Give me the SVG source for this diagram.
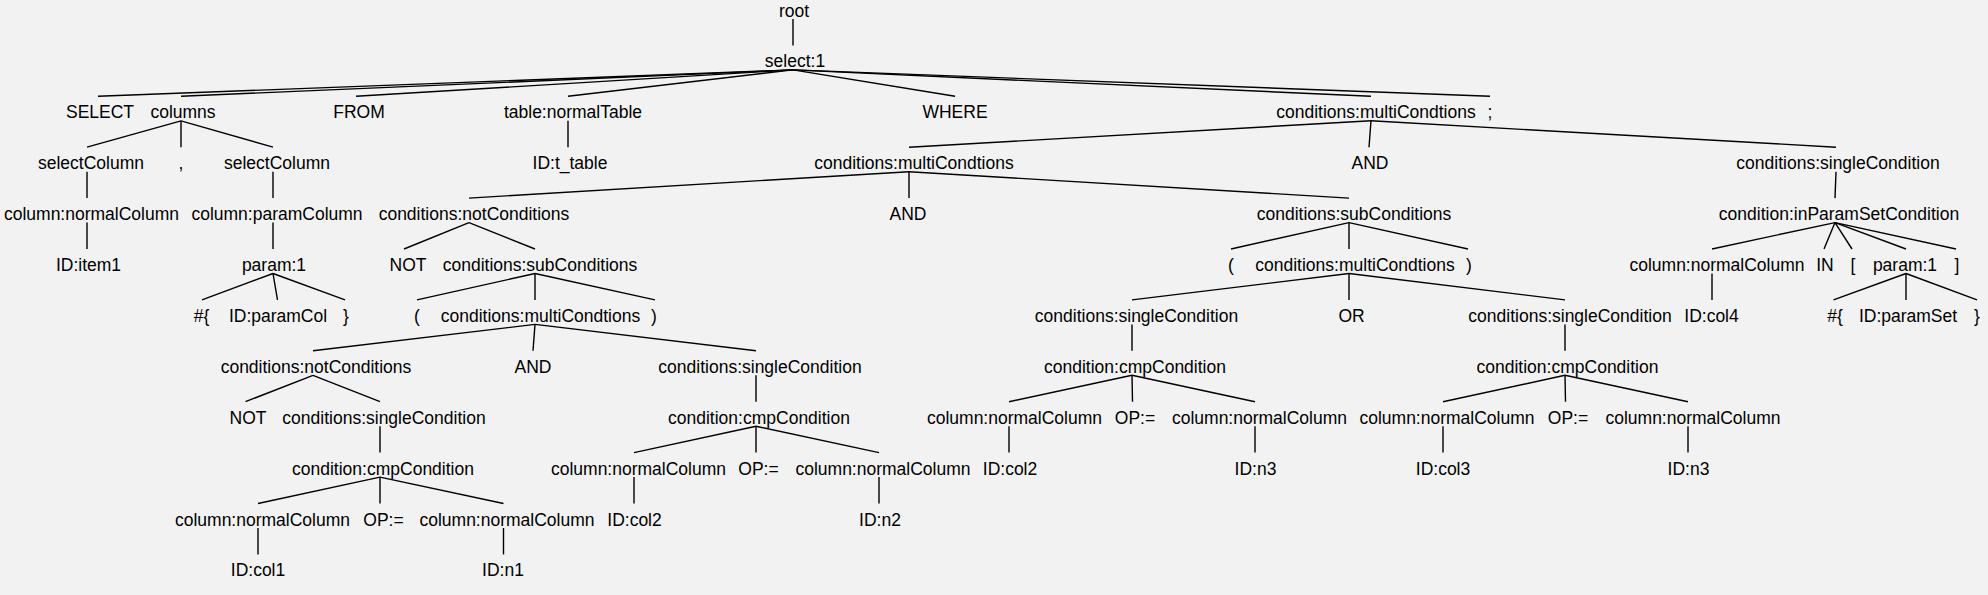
<svg xmlns="http://www.w3.org/2000/svg" width="1988" height="595" viewBox="0 0 1988 595">
<style>
text{font-family:"Liberation Sans",Arial,sans-serif;font-size:17.5px;fill:#000;text-anchor:middle}
#edges line{stroke:#000;stroke-width:1.4}
</style>
<rect width="1988" height="595" fill="#f2f2f2"/>
<g id="edges">
<line x1="793" y1="19" x2="793" y2="45.4"/>
<line x1="793" y1="69.9" x2="98" y2="96.3"/>
<line x1="793" y1="69.9" x2="181" y2="96.3"/>
<line x1="793" y1="69.9" x2="356" y2="96.3"/>
<line x1="793" y1="69.9" x2="568" y2="96.3"/>
<line x1="793" y1="69.9" x2="955" y2="96.3"/>
<line x1="793" y1="69.9" x2="1371" y2="96.3"/>
<line x1="793" y1="69.9" x2="1490" y2="96.3"/>
<line x1="181" y1="120.8" x2="87" y2="147.2"/>
<line x1="181" y1="120.8" x2="181" y2="147.2"/>
<line x1="181" y1="120.8" x2="273" y2="147.2"/>
<line x1="568" y1="120.8" x2="568" y2="147.2"/>
<line x1="1371" y1="120.8" x2="909" y2="147.2"/>
<line x1="1371" y1="120.8" x2="1369" y2="147.2"/>
<line x1="1371" y1="120.8" x2="1836" y2="147.2"/>
<line x1="87" y1="171.7" x2="87" y2="198.1"/>
<line x1="273" y1="171.7" x2="273" y2="198.1"/>
<line x1="909" y1="171.7" x2="469" y2="198.1"/>
<line x1="909" y1="171.7" x2="909" y2="198.1"/>
<line x1="909" y1="171.7" x2="1349" y2="198.1"/>
<line x1="1836" y1="171.7" x2="1835" y2="198.1"/>
<line x1="87" y1="222.6" x2="87" y2="249"/>
<line x1="273" y1="222.6" x2="273" y2="249"/>
<line x1="469" y1="222.6" x2="404" y2="249"/>
<line x1="469" y1="222.6" x2="535" y2="249"/>
<line x1="1349" y1="222.6" x2="1231" y2="249"/>
<line x1="1349" y1="222.6" x2="1349" y2="249"/>
<line x1="1349" y1="222.6" x2="1468" y2="249"/>
<line x1="1835" y1="222.6" x2="1712" y2="249"/>
<line x1="1835" y1="222.6" x2="1824" y2="249"/>
<line x1="1835" y1="222.6" x2="1852" y2="249"/>
<line x1="1835" y1="222.6" x2="1906" y2="249"/>
<line x1="1835" y1="222.6" x2="1956" y2="249"/>
<line x1="273" y1="273.5" x2="202" y2="299.9"/>
<line x1="273" y1="273.5" x2="277.5" y2="299.9"/>
<line x1="273" y1="273.5" x2="345" y2="299.9"/>
<line x1="535" y1="273.5" x2="417" y2="299.9"/>
<line x1="535" y1="273.5" x2="535" y2="299.9"/>
<line x1="535" y1="273.5" x2="655" y2="299.9"/>
<line x1="1349" y1="273.5" x2="1132" y2="299.9"/>
<line x1="1349" y1="273.5" x2="1349" y2="299.9"/>
<line x1="1349" y1="273.5" x2="1565" y2="299.9"/>
<line x1="1712" y1="273.5" x2="1712" y2="299.9"/>
<line x1="1906" y1="273.5" x2="1833.5" y2="299.9"/>
<line x1="1906" y1="273.5" x2="1906" y2="299.9"/>
<line x1="1906" y1="273.5" x2="1977" y2="299.9"/>
<line x1="535" y1="324.4" x2="313" y2="350.8"/>
<line x1="535" y1="324.4" x2="533" y2="350.8"/>
<line x1="535" y1="324.4" x2="756" y2="350.8"/>
<line x1="1132" y1="324.4" x2="1132" y2="350.8"/>
<line x1="1565" y1="324.4" x2="1565" y2="350.8"/>
<line x1="313" y1="375.3" x2="245.5" y2="401.7"/>
<line x1="313" y1="375.3" x2="380" y2="401.7"/>
<line x1="756" y1="375.3" x2="756" y2="401.7"/>
<line x1="1132" y1="375.3" x2="1009" y2="401.7"/>
<line x1="1132" y1="375.3" x2="1132.5" y2="401.7"/>
<line x1="1132" y1="375.3" x2="1255" y2="401.7"/>
<line x1="1565" y1="375.3" x2="1443" y2="401.7"/>
<line x1="1565" y1="375.3" x2="1565.5" y2="401.7"/>
<line x1="1565" y1="375.3" x2="1688" y2="401.7"/>
<line x1="380" y1="426.2" x2="380" y2="452.6"/>
<line x1="756" y1="426.2" x2="634" y2="452.6"/>
<line x1="756" y1="426.2" x2="756" y2="452.6"/>
<line x1="756" y1="426.2" x2="879" y2="452.6"/>
<line x1="1009" y1="426.2" x2="1009" y2="452.6"/>
<line x1="1255" y1="426.2" x2="1255" y2="452.6"/>
<line x1="1443" y1="426.2" x2="1443" y2="452.6"/>
<line x1="1688" y1="426.2" x2="1688" y2="452.6"/>
<line x1="380" y1="477.1" x2="258" y2="503.5"/>
<line x1="380" y1="477.1" x2="380" y2="503.5"/>
<line x1="380" y1="477.1" x2="503.5" y2="503.5"/>
<line x1="634" y1="477.1" x2="634" y2="503.5"/>
<line x1="879" y1="477.1" x2="879" y2="503.5"/>
<line x1="258" y1="528" x2="258" y2="554.4"/>
<line x1="503.5" y1="528" x2="503.5" y2="554.4"/>
</g>
<g id="n_root"><text x="794" y="16.5">root</text></g>
<g id="n_select"><text x="795" y="67.4">select:1</text></g>
<g id="n_SELECT"><text x="100" y="118.3">SELECT</text></g>
<g id="n_columns"><text x="183" y="118.3">columns</text></g>
<g id="n_FROM"><text x="359" y="118.3">FROM</text></g>
<g id="n_table"><text x="573" y="118.3">table:normalTable</text></g>
<g id="n_WHERE"><text x="955" y="118.3">WHERE</text></g>
<g id="n_multi1"><text x="1376" y="118.3">conditions:multiCondtions</text></g>
<g id="n_semi"><text x="1490" y="118.3">;</text></g>
<g id="n_selcol1"><text x="91" y="169.2">selectColumn</text></g>
<g id="n_comma"><text x="181" y="169.2">,</text></g>
<g id="n_selcol2"><text x="277" y="169.2">selectColumn</text></g>
<g id="n_idtable"><text x="570" y="169.2">ID:t_table</text></g>
<g id="n_multi2"><text x="914" y="169.2">conditions:multiCondtions</text></g>
<g id="n_and1"><text x="1370" y="169.2">AND</text></g>
<g id="n_single1"><text x="1838" y="169.2">conditions:singleCondition</text></g>
<g id="n_normcol1"><text x="91.5" y="220.1">column:normalColumn</text></g>
<g id="n_paramcol"><text x="277" y="220.1">column:paramColumn</text></g>
<g id="n_not1"><text x="474" y="220.1">conditions:notConditions</text></g>
<g id="n_and2"><text x="908" y="220.1">AND</text></g>
<g id="n_sub1"><text x="1354" y="220.1">conditions:subConditions</text></g>
<g id="n_inparam"><text x="1839" y="220.1">condition:inParamSetCondition</text></g>
<g id="n_item1"><text x="88.5" y="271">ID:item1</text></g>
<g id="n_param1"><text x="274" y="271">param:1</text></g>
<g id="n_NOT1"><text x="408" y="271">NOT</text></g>
<g id="n_sub2"><text x="540" y="271">conditions:subConditions</text></g>
<g id="n_lp1"><text x="1231" y="271">(</text></g>
<g id="n_multi3"><text x="1355" y="271">conditions:multiCondtions</text></g>
<g id="n_rp1"><text x="1469" y="271">)</text></g>
<g id="n_normcol4"><text x="1717" y="271">column:normalColumn</text></g>
<g id="n_IN"><text x="1825" y="271">IN</text></g>
<g id="n_lb"><text x="1853" y="271">[</text></g>
<g id="n_param2"><text x="1905" y="271">param:1</text></g>
<g id="n_rb"><text x="1957" y="271">]</text></g>
<g id="n_hash1"><text x="201.5" y="321.9">#{</text></g>
<g id="n_paramColId"><text x="278" y="321.9">ID:paramCol</text></g>
<g id="n_rc1"><text x="346" y="321.9">}</text></g>
<g id="n_lp2"><text x="417" y="321.9">(</text></g>
<g id="n_multi4"><text x="540.5" y="321.9">conditions:multiCondtions</text></g>
<g id="n_rp2"><text x="654" y="321.9">)</text></g>
<g id="n_single2"><text x="1136.5" y="321.9">conditions:singleCondition</text></g>
<g id="n_OR"><text x="1351.5" y="321.9">OR</text></g>
<g id="n_single3"><text x="1570" y="321.9">conditions:singleCondition</text></g>
<g id="n_col4"><text x="1711.5" y="321.9">ID:col4</text></g>
<g id="n_hash2"><text x="1835" y="321.9">#{</text></g>
<g id="n_paramSet"><text x="1908" y="321.9">ID:paramSet</text></g>
<g id="n_rc2"><text x="1977" y="321.9">}</text></g>
<g id="n_not2"><text x="316" y="372.8">conditions:notConditions</text></g>
<g id="n_and3"><text x="533" y="372.8">AND</text></g>
<g id="n_single4"><text x="760" y="372.8">conditions:singleCondition</text></g>
<g id="n_cmp1"><text x="1135" y="372.8">condition:cmpCondition</text></g>
<g id="n_cmp2"><text x="1567.5" y="372.8">condition:cmpCondition</text></g>
<g id="n_NOT2"><text x="248" y="423.7">NOT</text></g>
<g id="n_single5"><text x="384" y="423.7">conditions:singleCondition</text></g>
<g id="n_cmp3"><text x="759" y="423.7">condition:cmpCondition</text></g>
<g id="n_nc_a"><text x="1014.5" y="423.7">column:normalColumn</text></g>
<g id="n_op_a"><text x="1135" y="423.7">OP:=</text></g>
<g id="n_nc_b"><text x="1259.5" y="423.7">column:normalColumn</text></g>
<g id="n_nc_c"><text x="1447" y="423.7">column:normalColumn</text></g>
<g id="n_op_b"><text x="1568" y="423.7">OP:=</text></g>
<g id="n_nc_d"><text x="1693" y="423.7">column:normalColumn</text></g>
<g id="n_cmp4"><text x="383" y="474.6">condition:cmpCondition</text></g>
<g id="n_nc_e"><text x="638.5" y="474.6">column:normalColumn</text></g>
<g id="n_op_c"><text x="758.5" y="474.6">OP:=</text></g>
<g id="n_nc_f"><text x="883" y="474.6">column:normalColumn</text></g>
<g id="n_col2a"><text x="1010" y="474.6">ID:col2</text></g>
<g id="n_n3a"><text x="1255.5" y="474.6">ID:n3</text></g>
<g id="n_col3"><text x="1443" y="474.6">ID:col3</text></g>
<g id="n_n3b"><text x="1688.5" y="474.6">ID:n3</text></g>
<g id="n_nc_g"><text x="262.5" y="525.5">column:normalColumn</text></g>
<g id="n_op_d"><text x="383.5" y="525.5">OP:=</text></g>
<g id="n_nc_h"><text x="507" y="525.5">column:normalColumn</text></g>
<g id="n_col2b"><text x="634.5" y="525.5">ID:col2</text></g>
<g id="n_n2"><text x="880" y="525.5">ID:n2</text></g>
<g id="n_col1"><text x="258" y="576.4">ID:col1</text></g>
<g id="n_n1"><text x="503" y="576.4">ID:n1</text></g>
</svg>
